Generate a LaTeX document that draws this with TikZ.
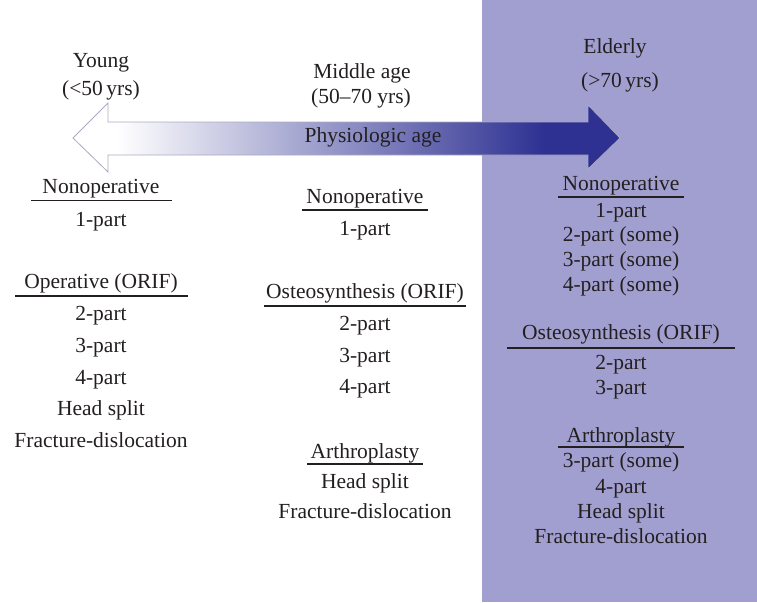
\documentclass[tikz,border=0pt]{standalone}
\usepackage{fontspec}
\setmainfont{Liberation Serif}
\definecolor{panel}{RGB}{161,159,207}
\definecolor{deepblue}{RGB}{46,49,146}
\definecolor{arrowedge}{RGB}{170,170,192}
\definecolor{ink}{RGB}{35,31,32}
\pgfdeclarehorizontalshading{agesh}{100bp}{color(0bp)=(white); color(29bp)=(white); color(68bp)=(deepblue); color(100bp)=(deepblue)}
\begin{document}
\begin{tikzpicture}[x=1pt,y=-1pt,
  txt/.style={font=\fontsize{21.5}{25}\selectfont, text=ink, inner sep=0pt, text height=15pt, text depth=5pt, anchor=center},
  rule/.style={draw=ink, line width=1.2pt}]
\useasboundingbox (0,0) rectangle (757,602);
\fill[panel] (482,0) rectangle (757,602);
% double arrow
\shade[shading=agesh, draw=arrowedge, line width=0.8pt]
  (73,138) -- (108,103) -- (108,122) -- (588,122) -- (588,105) -- (620,138)
  -- (588,169) -- (588,155) -- (108,155) -- (108,172) -- cycle;
\node[txt] (phys) at (373,137) {Physiologic age};
% headings
\node[txt] (young) at (101,62) {Young};
\node[txt] (youngage) at (101,90) {(<50\,yrs)};
\node[txt] (middle) at (362,73) {Middle age};
\node[txt] (middleage) at (361,98) {(50–70 yrs)};
\node[txt] (elderly) at (615,49) {Elderly};
\node[txt] (elderlyage) at (620,83) {(>70\,yrs)};
% left column
\node[txt] (l1) at (101,188) {Nonoperative};
\draw[rule] (31,200.5) -- (172,200.5);
\node[txt] (l2) at (101,221) {1-part};
\node[txt] (l3) at (101,283) {Operative (ORIF)};
\draw[rule] (15,296) -- (188,296);
\node[txt] (l4) at (101,315) {2-part};
\node[txt] (l5) at (101,347) {3-part};
\node[txt] (l6) at (101,379) {4-part};
\node[txt] (l7) at (101,410) {Head split};
\node[txt] (l8) at (101,442) {Fracture-dislocation};
% middle column
\node[txt] (m1) at (365,198) {Nonoperative};
\draw[rule] (302,210) -- (428,210);
\node[txt] (m2) at (365,230) {1-part};
\node[txt] (m3) at (365,293) {Osteosynthesis (ORIF)};
\draw[rule] (264,306) -- (466,306);
\node[txt] (m4) at (365,325) {2-part};
\node[txt] (m5) at (365,357) {3-part};
\node[txt] (m6) at (365,388) {4-part};
\node[txt] (m7) at (365,453) {Arthroplasty};
\draw[rule] (307,464) -- (423,464);
\node[txt] (m8) at (365,483) {Head split};
\node[txt] (m9) at (365,513) {Fracture-dislocation};
% right column
\node[txt] (r1) at (621,185) {Nonoperative};
\draw[rule] (558,197) -- (684,197);
\node[txt] (r2) at (621,212) {1-part};
\node[txt] (r3) at (621,236) {2-part (some)};
\node[txt] (r4) at (621,261) {3-part (some)};
\node[txt] (r5) at (621,286) {4-part (some)};
\node[txt] (r6) at (621,334) {Osteosynthesis (ORIF)};
\draw[rule] (507,348) -- (735,348);
\node[txt] (r7) at (621,364) {2-part};
\node[txt] (r8) at (621,389) {3-part};
\node[txt] (r9) at (621,437) {Arthroplasty};
\draw[rule] (558,447) -- (684,447);
\node[txt] (r10) at (621,462) {3-part (some)};
\node[txt] (r11) at (621,488) {4-part};
\node[txt] (r12) at (621,513) {Head split};
\node[txt] (r13) at (621,538) {Fracture-dislocation};
\end{tikzpicture}
\end{document}
